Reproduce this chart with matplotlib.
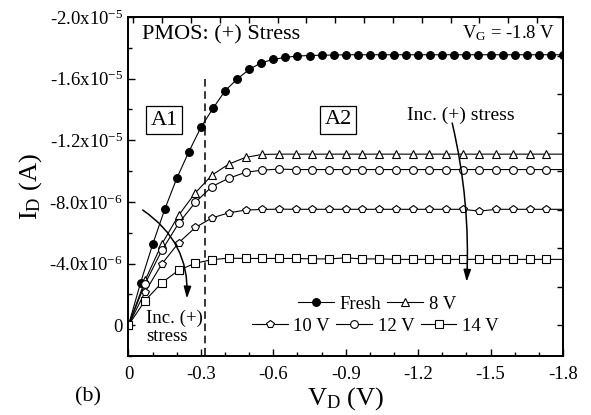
import matplotlib
matplotlib.use('Agg')
import matplotlib.pyplot as plt
import numpy as np

plt.rcParams['font.family'] = ['Liberation Serif', 'DejaVu Serif']
plt.rcParams['mathtext.fontset'] = 'custom'
plt.rcParams['mathtext.rm'] = 'Liberation Serif'
plt.rcParams['mathtext.it'] = 'Liberation Serif:italic'
plt.rcParams['axes.unicode_minus'] = False

# drain voltage sweeps (V)
vd_fresh = [0, -0.05, -0.1, -0.15, -0.2, -0.25, -0.3, -0.35, -0.4, -0.45, -0.5,
            -0.55, -0.6, -0.65, -0.7, -0.75, -0.8, -0.85, -0.9, -0.95, -1.0,
            -1.05, -1.1, -1.15, -1.2, -1.25, -1.3, -1.35, -1.4, -1.45, -1.5,
            -1.55, -1.6, -1.65, -1.7, -1.75, -1.8]
vd_stress = [0, -0.069, -0.138, -0.208, -0.277, -0.346, -0.415, -0.485, -0.554,
             -0.623, -0.692, -0.762, -0.831, -0.900, -0.969, -1.038, -1.108,
             -1.177, -1.246, -1.315, -1.385, -1.454, -1.523, -1.592, -1.662,
             -1.731, -1.800]

# drain current magnitude (uA)
id_fresh = [0, 2.75, 5.24, 7.51, 9.53, 11.25, 12.84, 14.07, 15.21, 15.97, 16.6,
            17.03, 17.25, 17.38, 17.47, 17.5, 17.52, 17.53, 17.55, 17.55, 17.55,
            17.55, 17.55, 17.55, 17.55, 17.55, 17.55, 17.55, 17.55, 17.55, 17.55,
            17.55, 17.55, 17.55, 17.55, 17.55, 17.55]
id_8v = [0, 2.92, 5.26, 7.14, 8.59, 9.74, 10.45, 10.89, 11.08, 11.1, 11.1, 11.1,
         11.1, 11.1, 11.1, 11.1, 11.1, 11.1, 11.1, 11.1, 11.1, 11.1, 11.1, 11.1,
         11.1, 11.1, 11.1]
id_10v = [0, 2.16, 3.97, 5.35, 6.34, 6.96, 7.29, 7.47, 7.51, 7.53, 7.52, 7.52,
          7.52, 7.52, 7.52, 7.52, 7.52, 7.52, 7.52, 7.52, 7.52, 7.4, 7.52, 7.52,
          7.52, 7.52, 7.52]
id_12v = [0, 2.7, 4.85, 6.62, 7.97, 9.0, 9.53, 9.92, 10.06, 10.13, 10.1, 10.1,
          10.1, 10.1, 10.1, 10.1, 10.1, 10.1, 10.1, 10.1, 10.1, 10.1, 10.1, 10.1,
          10.1, 10.1, 10.1]
id_14v = [0, 1.6, 2.75, 3.57, 4.02, 4.25, 4.35, 4.33, 4.33, 4.33, 4.33, 4.3,
          4.3, 4.37, 4.3, 4.3, 4.27, 4.27, 4.27, 4.27, 4.27, 4.27, 4.27, 4.27,
          4.27, 4.27, 4.27]

series = [
    ('Fresh', vd_fresh, id_fresh, 'o', 'k'),
    ('8 V', vd_stress, id_8v, '^', 'w'),
    ('10 V', vd_stress, id_10v, 'p', 'w'),
    ('12 V', vd_stress, id_12v, 'o', 'w'),
    ('14 V', vd_stress, id_14v, 's', 'w'),
]

fig = plt.figure(figsize=(5.91, 4.15), dpi=100)
ax = fig.add_axes([0.2174, 0.1422, 0.7352, 0.8168])

lines = {}
for name, vd, idd, mk, fc in series:
    # stressed sweeps: no symbol on the last point at the axis edge
    every = None if name == 'Fresh' else list(range(len(vd) - 1))
    ln, = ax.plot(vd, -np.array(idd) * 1e-6, color='k', lw=0.8, marker=mk,
                  ms=5.6, mfc=fc, mec='k', mew=0.8, markevery=every,
                  label=name, zorder=3)
    lines[name] = ln

ax.set_xlim(0, -1.8)
ax.set_ylim(2e-6, -2e-5)

ax.set_xticks([0, -0.3, -0.6, -0.9, -1.2, -1.5, -1.8])
ax.set_xticklabels(['0', '-0.3', '-0.6', '-0.9', '-1.2', '-1.5', '-1.8'])
ax.set_xticks(np.arange(0, -1.85, -0.1), minor=True)
ax.set_yticks([0, -4e-6, -8e-6, -1.2e-5, -1.6e-5, -2e-5])
ax.set_yticks(np.arange(2e-6, -2.1e-5, -2e-6), minor=True)


def sci_label(v, pos):
    if abs(v) < 1e-12:
        return '0'
    exp = int(np.floor(np.log10(abs(v)) + 1e-9))
    mant = v / 10**exp
    return f'{mant:.1f}x10$^{{{exp}}}$'


ax.yaxis.set_major_formatter(plt.FuncFormatter(sci_label))
ax.tick_params(which='both', direction='in', labelsize=13.5, width=1.0)
ax.tick_params(which='major', length=5)
ax.tick_params(which='minor', length=3)
ax.tick_params(axis='x', pad=7)
ax.tick_params(axis='y', pad=4)
for s in ax.spines.values():
    s.set_linewidth(1.1)

# mirrored axes with their own tick spacing
ax_r = ax.twinx()
ax_r.set_ylim(ax.get_ylim())
ax_r.set_yticks([0, -2.5e-6, -5e-6, -7.5e-6, -1e-5, -1.25e-5, -1.5e-5,
                 -1.75e-5, -2e-5])
ax_r.tick_params(direction='in', length=4, width=1.0, labelright=False)
ax_t = ax.twiny()
ax_t.set_xlim(ax.get_xlim())
ax_t.set_xticks([-0.02 - 0.1195 * k for k in range(15)])
ax_t.tick_params(direction='in', length=4, width=1.0, labeltop=False)
for a in (ax_r, ax_t):
    for s in a.spines.values():
        s.set_linewidth(1.1)

ax.set_xlabel(r'V$_\mathrm{D}$ (V)', fontsize=19, labelpad=2)
ax.set_ylabel(r'I$_\mathrm{D}$ (A)', fontsize=19, labelpad=4)

# saturation boundary
ax.plot([-0.317, -0.317], [-1.6e-5, 2e-6], color='k', lw=1.1,
        dashes=(5, 3), zorder=2)

ax.text(-0.056, -1.883e-5, 'PMOS: (+) Stress', fontsize=16, va='center')
ax.text(-1.77, -1.896e-5, r'V$_\mathrm{G}$ = -1.8 V', fontsize=13.5,
        va='center', ha='right')
box = dict(boxstyle='square,pad=0.2', fc='w', ec='k', lw=0.9)
ax.text(-0.147, -1.33e-5, 'A1', fontsize=16, ha='center', va='center', bbox=box)
ax.text(-0.869, -1.334e-5, 'A2', fontsize=16, ha='center', va='center', bbox=box)

ax.text(-1.376, -1.364e-5, 'Inc. (+) stress', fontsize=14, ha='center',
        va='center')
ax.annotate('', xy=(-1.401, -2.82e-6), xytext=(-1.341, -1.312e-5),
            arrowprops=dict(arrowstyle='-|>,head_length=0.7,head_width=0.22',
                            connectionstyle='arc3,rad=-0.07', color='k',
                            lw=1.1, shrinkA=0, shrinkB=0))
ax.text(-0.073, 0.16e-6, 'Inc. (+)\nstress', fontsize=13.5, ha='left',
        va='center', linespacing=1.05)
ax.annotate('', xy=(-0.242, -1.73e-6), xytext=(-0.059, -7.47e-6),
            arrowprops=dict(arrowstyle='-|>,head_length=0.7,head_width=0.22',
                            connectionstyle='arc3,rad=-0.28', color='k',
                            lw=1.1, shrinkA=0, shrinkB=0))

leg_kw = dict(frameon=False, fontsize=13.5, handlelength=1.9,
              handletextpad=0.3, columnspacing=0.35, borderpad=0,
              borderaxespad=0, loc='center left')
leg1 = ax_t.legend([lines['Fresh'], lines['8 V']], ['Fresh', '8 V'], ncol=2,
                   bbox_to_anchor=(0.39, 0.153), **leg_kw)
ax_t.add_artist(leg1)
ax_t.legend([lines['10 V'], lines['12 V'], lines['14 V']],
            ['10 V', '12 V', '14 V'], ncol=3,
            bbox_to_anchor=(0.284, 0.0885), **leg_kw)

fig.text(0.149, 0.0434, '(b)', fontsize=16, ha='center', va='center')

fig.savefig('out.png', dpi=100)
